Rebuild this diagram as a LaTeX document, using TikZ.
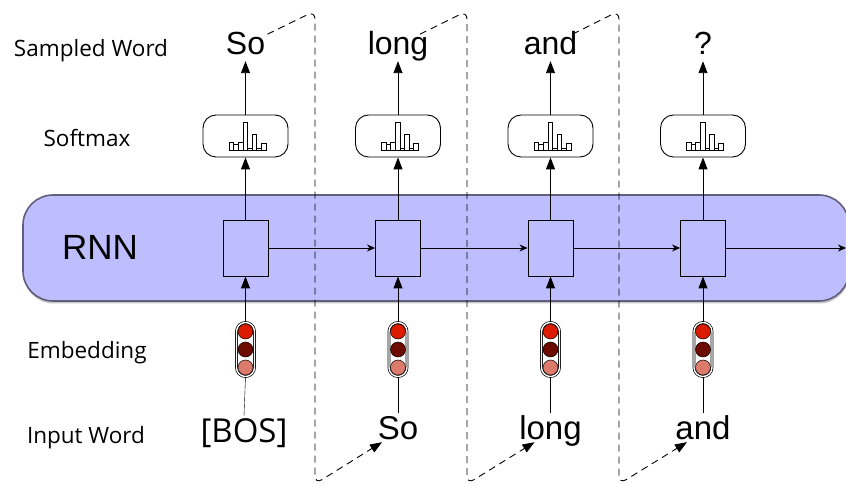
\documentclass[tikz,border=0pt]{standalone}
\usepackage{fontspec}
\setmainfont{Liberation Sans}
\newfontfamily\labelfont{Open Sans}
\usetikzlibrary{arrows.meta,shadows}

\definecolor{rnnfill}{RGB}{190,190,255}
\definecolor{rnnedge}{RGB}{95,95,125}
\definecolor{embhot}{RGB}{220,28,0}
\definecolor{embdark}{RGB}{110,11,0}
\definecolor{embpale}{RGB}{220,122,108}

\tikzset{%
  rowlabel/.style = {anchor=base, font=\labelfont\fontsize{22.5}{26}\selectfont},
  word/.style = {anchor=base, inner sep=2pt, text height=24pt, text depth=4pt,
    font=\fontsize{32}{36}\selectfont},
  rnnband/.style = {rectangle, rounded corners=30pt, draw=rnnedge, line width=1.6pt,
    fill=rnnfill, minimum width=826pt, minimum height=106pt,
    drop shadow={opacity=0.45, shadow xshift=0.5pt, shadow yshift=-2.5pt}},
  cell/.style = {rectangle, draw, line width=0.9pt, fill=rnnfill,
    minimum width=45pt, minimum height=56pt, inner sep=0pt},
  softbox/.style = {rectangle, rounded corners=13pt, draw, line width=0.9pt, fill=white,
    minimum width=85pt, minimum height=42pt},
  embbox/.style = {rectangle, rounded corners=9pt, draw, fill=white, double=white,
    double distance=1.4pt, line width=0.7pt, minimum width=18pt, minimum height=54pt,
    inner sep=0pt},
  embdot/.style = {circle, draw, line width=0.5pt, minimum size=15pt, inner sep=0pt},
  flowup/.style = {draw, line width=0.9pt, -{Triangle[length=12pt,width=9pt]}},
  recur/.style = {draw, line width=0.8pt, -{Stealth[length=8pt,width=7pt,inset=2.5pt]}},
  feedback/.style = {draw, dash pattern=on 7pt off 5pt, line width=0.9pt,
    rounded corners=8pt, -{Triangle[length=12pt,width=9pt]}},
  histbars/.pic = {
    \draw[line width=0.5pt] (-16.5,14) rectangle (-11.9,6)
      (-11.9,14) rectangle (-7.3,8) (-7.3,14) rectangle (-2.7,6)
      (-2.7,14) rectangle (1.9,-14) (1.9,14) rectangle (6.5,12.5)
      (6.5,14) rectangle (11.1,-2) (11.1,14) rectangle (15.7,12.5)
      (15.7,14) rectangle (20.3,7);
  }
}

\begin{document}
\begin{tikzpicture}[x=1pt, y=-1pt]
  \useasboundingbox (0,0) rectangle (846,486);

  % recurrent layer
  \node[rnnband] (rnn) at (436,248) {};
  \node[anchor=base, font=\fontsize{35}{40}\selectfont] (rnnname) at (100,260) {RNN};

  % row names
  \node[rowlabel] (lblout) at (91,57) {Sampled Word};
  \node[rowlabel] (lblsoft) at (87,147) {Softmax};
  \node[rowlabel] (lblemb) at (87,358) {Embedding};
  \node[rowlabel] (lblin) at (86,443) {Input Word};

  % hidden cells
  \node[cell] (cell1) at (245.5,248) {};
  \node[cell] (cell2) at (398,248) {};
  \node[cell] (cell3) at (550.5,248) {};
  \node[cell] (cell4) at (703,248) {};
  \coordinate (exit) at (846,248);

  % softmax boxes
  \node[softbox] (sm1) at (245.5,136) {};
  \node[softbox] (sm2) at (398,136) {};
  \node[softbox] (sm3) at (550.5,136) {};
  \node[softbox] (sm4) at (703,136) {};
  \pic at (sm1.center) {histbars};
  \pic at (sm2.center) {histbars};
  \pic at (sm3.center) {histbars};
  \pic at (sm4.center) {histbars};

  % embeddings
  \node[embbox] (emb1) at (245.5,349.5) {};
  \node[embbox] (emb2) at (398,349.5) {};
  \node[embbox] (emb3) at (550.5,349.5) {};
  \node[embbox] (emb4) at (703,349.5) {};
  \node[embdot, fill=embhot]  (emb1a) at ([yshift=18pt]emb1.center) {};
  \node[embdot, fill=embdark] (emb1b) at (emb1.center) {};
  \node[embdot, fill=embpale] (emb1c) at ([yshift=-18pt]emb1.center) {};
  \node[embdot, fill=embhot]  (emb2a) at ([yshift=18pt]emb2.center) {};
  \node[embdot, fill=embdark] (emb2b) at (emb2.center) {};
  \node[embdot, fill=embpale] (emb2c) at ([yshift=-18pt]emb2.center) {};
  \node[embdot, fill=embhot]  (emb3a) at ([yshift=18pt]emb3.center) {};
  \node[embdot, fill=embdark] (emb3b) at (emb3.center) {};
  \node[embdot, fill=embpale] (emb3c) at ([yshift=-18pt]emb3.center) {};
  \node[embdot, fill=embhot]  (emb4a) at ([yshift=18pt]emb4.center) {};
  \node[embdot, fill=embdark] (emb4b) at (emb4.center) {};
  \node[embdot, fill=embpale] (emb4c) at ([yshift=-18pt]emb4.center) {};

  % words
  \node[word] (out1) at (245.5,55) {So};
  \node[word] (out2) at (398,55) {long};
  \node[word] (out3) at (550.5,55) {and};
  \node[word] (out4) at (703,55) {?};
  \node[word, font=\labelfont\fontsize{33}{38}\selectfont] (in1) at (244,442) {[BOS]};
  \node[word, font=\fontsize{33}{38}\selectfont] (in2) at (398,439) {So};
  \node[word, font=\fontsize{33}{38}\selectfont] (in3) at (550.5,439) {long};
  \node[word, font=\fontsize{33}{38}\selectfont] (in4) at (703,439) {and};

  % vertical flow
  \draw (in1.north) -- (emb1.south);
  \draw (in2.north) -- (emb2.south);
  \draw (in3.north) -- (emb3.south);
  \draw (in4.north) -- (emb4.south);
  \draw[flowup] (emb1.north) -- (cell1.south);
  \draw[flowup] (emb2.north) -- (cell2.south);
  \draw[flowup] (emb3.north) -- (cell3.south);
  \draw[flowup] (emb4.north) -- (cell4.south);
  \draw[flowup] (cell1.north) -- (sm1.south);
  \draw[flowup] (cell2.north) -- (sm2.south);
  \draw[flowup] (cell3.north) -- (sm3.south);
  \draw[flowup] (cell4.north) -- (sm4.south);
  \draw[flowup] (sm1.north) -- (out1.south);
  \draw[flowup] (sm2.north) -- (out2.south);
  \draw[flowup] (sm3.north) -- (out3.south);
  \draw[flowup] (sm4.north) -- (out4.south);

  % hidden state
  \draw[recur] (cell1.east) -- (cell2.west);
  \draw[recur] (cell2.east) -- (cell3.west);
  \draw[recur] (cell3.east) -- (cell4.west);
  \draw[recur] (cell4.east) -- (exit);

  % sampled word fed back as next input
  \draw[feedback] ([shift={(22pt,27pt)}]out1.south) -- (315,11) -- (315,484)
    -- ([shift={(-16pt,3pt)}]in2.south);
  \draw[feedback] ([shift={(22pt,27pt)}]out2.south) -- (467,11) -- (467,484)
    -- ([shift={(-16pt,3pt)}]in3.south);
  \draw[feedback] ([shift={(22pt,27pt)}]out3.south) -- (619,11) -- (619,484)
    -- ([shift={(-16pt,3pt)}]in4.south);
\end{tikzpicture}
\end{document}
